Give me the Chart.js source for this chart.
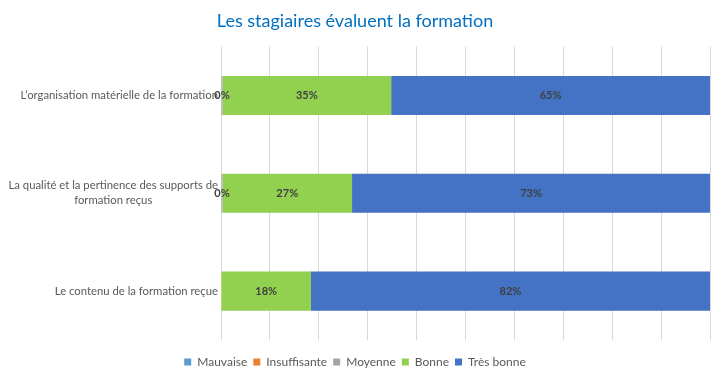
<!DOCTYPE html>
<html>
<head>
<meta charset="utf-8">
<script src="https://cdn.jsdelivr.net/npm/chart.js@4"></script>
<style>
  html, body { margin: 0; padding: 0; background: #fff; }
  #wrap { width: 721px; height: 371px; }
</style>
</head>
<body>
<div id="wrap"><canvas id="chart" width="721" height="371"></canvas></div>
<script>
(function () {
    'use strict';

    var categories = [
        ['L’organisation matérielle de la formation'],
        ['La qualité et la pertinence des supports de', 'formation reçus'],
        ['Le contenu de la formation reçue']
    ];
    var seriesNames = ['Mauvaise', 'Insuffisante', 'Moyenne', 'Bonne', 'Très bonne'];
    var mauvaise     = [0, 0, 0];
    var insuffisante = [0, 0, 0];
    var moyenne      = [0.3, 0.3, 0];
    var bonne        = [34.5, 26.5, 18.4];
    var tresBonne    = [65.2, 73.2, 81.6];
    var colors = ['#5B9BD5', '#ED7D31', '#A5A5A5', '#92D050', '#4472C4'];

    var FONT = 'Lato, "Open Sans", sans-serif';
    var values = [mauvaise, insuffisante, moyenne, bonne, tresBonne];

    var datasets = seriesNames.map(function (name, i) {
        return {
            label: name,
            data: values[i],
            backgroundColor: colors[i],
            borderWidth: 0,
            barPercentage: 0.4,
            categoryPercentage: 1
        };
    });

    // étiquettes de données + libellés de catégories
    var labelsPlugin = {
        id: 'labels',
        afterDatasetsDraw: function (chart) {
            var ctx = chart.ctx;
            ctx.save();
            ctx.font = 'bold 11px ' + FONT;
            ctx.fillStyle = '#404040';
            ctx.textAlign = 'center';
            ctx.textBaseline = 'middle';
            chart.data.datasets.forEach(function (ds, di) {
                var meta = chart.getDatasetMeta(di);
                meta.data.forEach(function (bar, i) {
                    var v = ds.data[i];
                    if (!v) return;
                    var x = (bar.x + bar.base) / 2;
                    ctx.fillText(Math.round(v) + '%', x, bar.y);
                });
            });

            var yScale = chart.scales.y;
            var right = chart.chartArea.left - 3;
            ctx.font = '11.3px ' + FONT;
            ctx.fillStyle = '#595959';
            categories.forEach(function (lines, i) {
                var y = yScale.getPixelForValue(i);
                var lh = 15;
                var widest = 0;
                lines.forEach(function (l) { widest = Math.max(widest, ctx.measureText(l).width); });
                var y0 = y - (lines.length - 1) * lh / 2;
                lines.forEach(function (l, k) {
                    if (lines.length > 1) {
                        ctx.textAlign = 'center';
                        ctx.fillText(l, right - widest / 2, y0 + k * lh);
                    } else {
                        ctx.textAlign = 'right';
                        ctx.fillText(l, right, y0 + k * lh);
                    }
                });
            });
            ctx.restore();
        }
    };

    new Chart(document.getElementById('chart'), {
        type: 'bar',
        data: {
            labels: categories.map(function (c) { return c.join(' '); }),
            datasets: datasets
        },
        options: {
            indexAxis: 'y',
            responsive: false,
            animation: false,
            layout: { padding: { left: 0, right: 11, top: 10, bottom: -7 } },
            plugins: {
                title: {
                    display: true,
                    text: 'Les stagiaires évaluent la formation',
                    color: '#0070C0',
                    font: { family: FONT, size: 18, weight: 'normal' },
                    padding: { top: 0, bottom: 15 }
                },
                legend: {
                    position: 'bottom',
                    labels: {
                        boxWidth: 7,
                        boxHeight: 7,
                        padding: 6,
                        color: '#595959',
                        font: { family: FONT, size: 12 }
                    }
                },
                tooltip: { enabled: false }
            },
            scales: {
                x: {
                    stacked: true,
                    min: 0,
                    max: 100,
                    ticks: { display: false, stepSize: 10 },
                    grid: { color: '#D9D9D9', drawTicks: false },
                    border: { display: false },
                    afterFit: function (scale) { scale.height = 10; }
                },
                y: {
                    stacked: true,
                    ticks: { display: false },
                    grid: { display: false },
                    border: { display: false },
                    afterFit: function (scale) { scale.width = 221; }
                }
            }
        },
        plugins: [labelsPlugin]
    });
})();
</script>
</body>
</html>
